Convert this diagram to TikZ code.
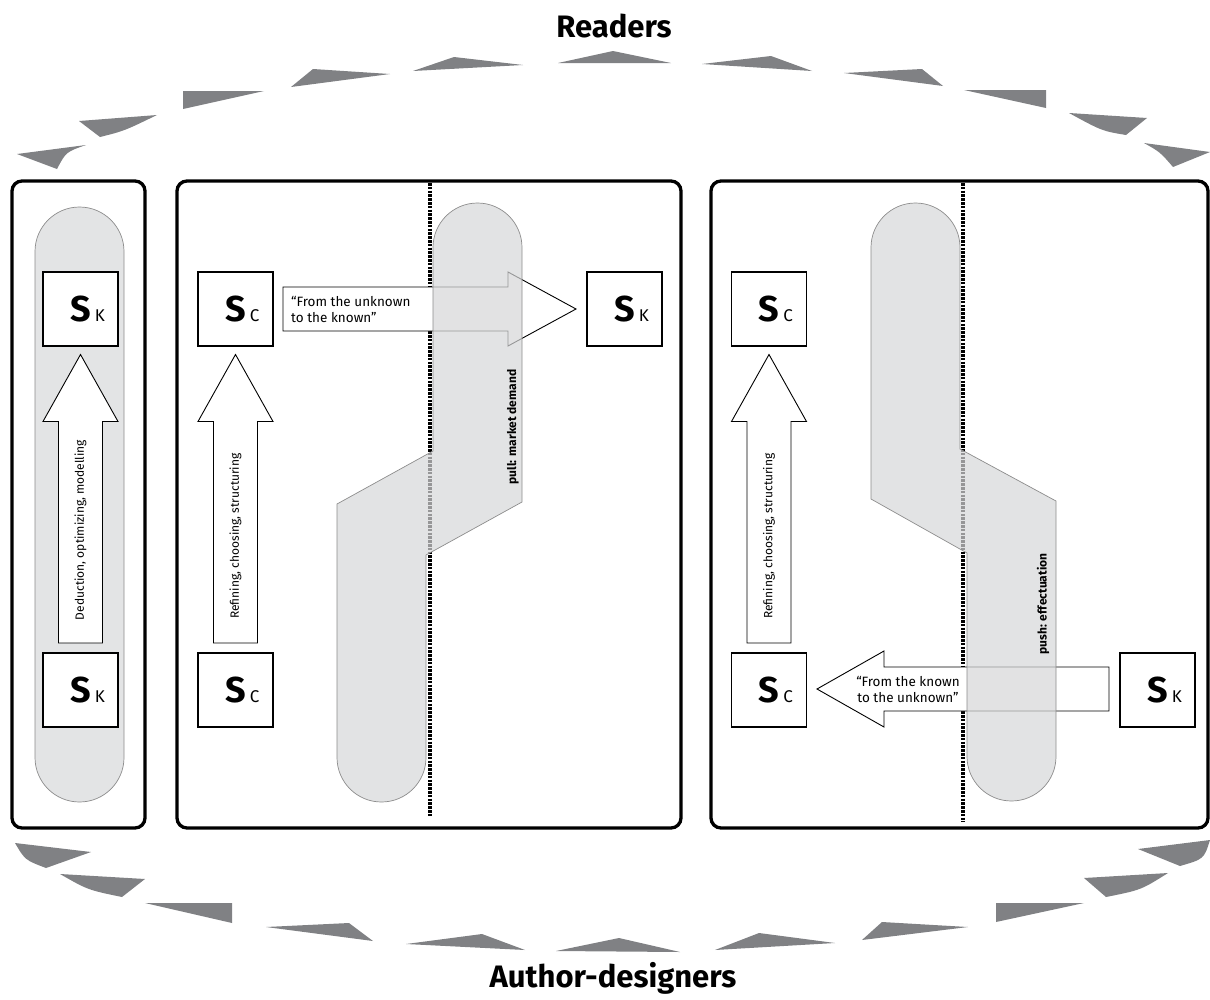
\documentclass[tikz,border=0pt]{standalone}
\usepackage{fontspec}
\setmainfont{Fira Sans}
\definecolor{wedgegray}{RGB}{128,129,132}
\definecolor{pillgray}{RGB}{227,228,229}
\definecolor{pillgraytr}{RGB}{214,215,216}
\definecolor{pilledge}{RGB}{140,140,140}
\newcommand\Slab[1]{{\bfseries\fontsize{36}{36}\selectfont S}\rlap{\hspace{4pt}\fontsize{17}{17}\selectfont #1}}
\begin{document}
\begin{tikzpicture}[x=1pt,y=-1pt,
  wedge/.style={fill=wedgegray,draw=none},
  panel/.style={draw=black,line width=3.3pt,rounded corners=10pt},
  pill/.style={fill=pillgray,draw=pilledge,line width=0.7pt},
  pilltr/.style={fill=pillgraytr,fill opacity=0.7,draw=pilledge,line width=0.7pt},
  sbox/.style={draw,line width=1.1pt,fill=white,minimum width=75pt,minimum height=74pt,inner sep=0pt},
  blockarrow/.style={draw,line width=0.9pt,fill=white,line join=miter},
  divider/.style={line width=3.4pt,dash pattern=on 2.6pt off 1.2pt},
  armtext/.style={font=\fontsize{12}{14}\selectfont,rotate=90,inner sep=0pt},
  flowtext/.style={font=\bfseries\fontsize{12}{13}\selectfont,rotate=90,inner sep=0pt},
  quotetext/.style={font=\fontsize{13.5}{15.5}\selectfont,inner sep=0pt},
  title/.style={font=\bfseries\fontsize{31}{34}\selectfont,inner sep=0pt,anchor=base}
]
\useasboundingbox (0,0) rectangle (1210,999);

% ---------- titles ----------
\node[title] (readers) at (614,37) {Readers};
\node[title] (authors) at (613,987) {Author-designers};

% ---------- top ring of wedges ----------
\fill[wedge] (17,154) -- (86,145) .. controls (66,152) .. (57,169) -- cycle;
\fill[wedge] (79,121) -- (157,115) .. controls (124,131) .. (100,137) -- cycle;
\fill[wedge] (183,91) -- (264,91) -- (183,109) -- cycle;
\fill[wedge] (291,87) -- (313,69) -- (390,74) -- cycle;
\fill[wedge] (413,71) -- (454,57) -- (523,65) -- cycle;
\fill[wedge] (558,63) -- (613,51) -- (671,63) -- cycle;
\fill[wedge] (702,64) -- (771,56) -- (812,71) -- cycle;
\fill[wedge] (844,73) -- (922,69) -- (943,86) -- cycle;
\fill[wedge] (964,90) -- (1046,90) -- (1046,108) -- cycle;
\fill[wedge] (1069,113) .. controls (1102,131) .. (1126,135) -- (1147,118) -- cycle;
\fill[wedge] (1144,143) .. controls (1160,152) .. (1173,167) -- (1210,152) -- cycle;

% ---------- bottom ring of wedges ----------
\fill[wedge] (15,843) .. controls (25,860) .. (46,868) -- (91,852) -- cycle;
\fill[wedge] (60,874) .. controls (88,890) .. (122,897) -- (145,879) -- cycle;
\fill[wedge] (145,903) -- (232,903) -- (232,923) -- cycle;
\fill[wedge] (266,927) -- (349,923) -- (373,941) -- cycle;
\fill[wedge] (406,944) -- (482,934) -- (525,950) -- cycle;
\fill[wedge] (556,951) -- (619,938) -- (680,952) -- cycle;
\fill[wedge] (715,950) -- (759,933) -- (835,943) -- cycle;
\fill[wedge] (862,940) -- (882,922) -- (968,927) -- cycle;
\fill[wedge] (996,903) -- (1084,903) -- (996,922) -- cycle;
\fill[wedge] (1084,878) -- (1168,873) .. controls (1141,890) .. (1106,897) -- cycle;
\fill[wedge] (1138,849) -- (1210,840) .. controls (1204,859) .. (1180,866) -- cycle;

% ---------- left panel ----------
\draw[panel] (12,181) rectangle (145,828);
\draw[pill,rounded corners=44.5pt] (35,207) rectangle (124,802);
\node[sbox] (lk1) at (80.5,309) {\Slab{K}};
\node[sbox] (lk2) at (80.5,690) {\Slab{K}};
\draw[blockarrow] (80.5,354.5) -- (118,421.5) -- (102.5,421.5) -- (102.5,643)
  -- (58.5,643) -- (58.5,421.5) -- (43,421.5) -- cycle;
\node[armtext] (lt) at (80.5,530) {Deduction, optimizing, modelling};

% ---------- middle panel ----------
\draw[panel] (177,181) rectangle (681,828);
\node[sbox] (mc1) at (235.5,309) {\Slab{C}};
\node[sbox] (mc2) at (235.5,690) {\Slab{C}};
\node[sbox] (mk) at (624.5,309) {\Slab{K}};
\draw[blockarrow] (235.5,354.5) -- (273,421.5) -- (257.5,421.5) -- (257.5,643)
  -- (213.5,643) -- (213.5,421.5) -- (198,421.5) -- cycle;
\node[armtext] (mt) at (235.5,536) {Refining, choosing, structuring};
\coordinate (md1) at (430,183);
\coordinate (md2) at (430,816);
\draw[divider] (md1) -- (md2);
\draw[blockarrow] (283,287) -- (508,287) -- (508,272) -- (576,309) -- (508,346)
  -- (508,331) -- (283,331) -- cycle;
\node[quotetext,anchor=west,align=left] (mq) at (291,309.5) {“From the unknown\\to the known”};
\path[pilltr] (433,451) -- (433,247.5) arc[start angle=180,end angle=0,radius=44.5pt]
  -- (522,502) -- (426,555) -- (426,757.5) arc[start angle=0,end angle=-180,radius=44.5pt]
  -- (337,504) -- cycle;
\node[flowtext] (pull) at (513,427) {pull: market demand};

% ---------- right panel ----------
\draw[panel] (711,181) rectangle (1208,828);
\node[sbox] (rc1) at (769,309) {\Slab{C}};
\node[sbox] (rc2) at (769,690) {\Slab{C}};
\node[sbox] (rk) at (1157.5,690) {\Slab{K}};
\draw[blockarrow] (769,354.5) -- (806.5,421.5) -- (791,421.5) -- (791,643)
  -- (747,643) -- (747,421.5) -- (731.5,421.5) -- cycle;
\node[armtext] (rt) at (769,536) {Refining, choosing, structuring};
\coordinate (rd1) at (963,183);
\coordinate (rd2) at (963,822);
\draw[divider] (rd1) -- (rd2);
\draw[blockarrow] (817,689) -- (884,651) -- (884,667) -- (1109,667) -- (1109,711)
  -- (884,711) -- (884,727) -- cycle;
\node[quotetext,align=center] (rq) at (908,689.5) {“From the known\\to the unknown”};
\path[pilltr] (960,449) -- (960,247.5) arc[start angle=0,end angle=180,radius=44.5pt]
  -- (871,499) -- (967,553) -- (967,756.5) arc[start angle=180,end angle=360,radius=44.5pt]
  -- (1056,501) -- cycle;
\node[flowtext] (push) at (1043,604) {push: effectuation};
\end{tikzpicture}
\end{document}
